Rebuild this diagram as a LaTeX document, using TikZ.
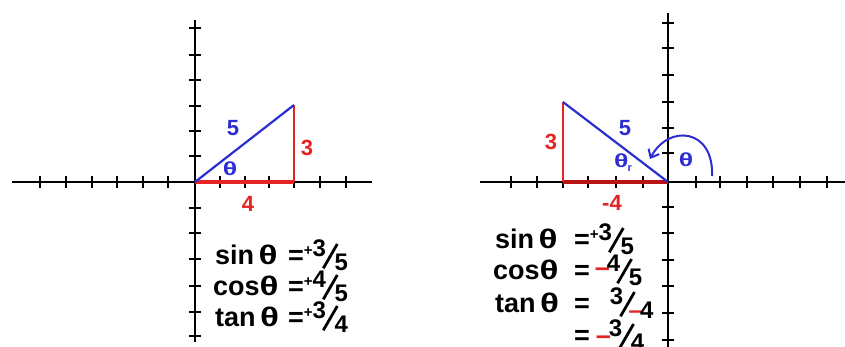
\documentclass[tikz,border=0pt]{standalone}
\usepackage{fontspec}
\setmainfont{Liberation Sans}
\usepackage{graphicx}
\usetikzlibrary{arrows.meta}
\definecolor{myblue}{RGB}{45,45,210}
\definecolor{myred}{RGB}{228,35,35}
\definecolor{mydarkred}{RGB}{185,20,20}
\newcommand{\psup}[1]{\raisebox{9pt}{\fontsize{15}{15}\selectfont #1}}
\newcommand{\fsl}{\raisebox{-5pt}{\rotatebox{60}{\rule{28pt}{2.8pt}}}}
\newcommand{\nfr}[2]{\raisebox{8pt}{\fontsize{24}{24}\selectfont #1}\kern-4pt\fsl\kern-4pt\raisebox{-6pt}{\fontsize{24}{24}\selectfont #2}}
\newcommand{\rmin}{\textcolor{myred}{–}}
\newcommand{\bth}{\scalebox{1.4}[1]{θ}}
\newcommand{\eth}{\scalebox{1.3}[1]{θ}}
\begin{document}
\begin{tikzpicture}[x=1pt,y=-1pt,
  axis/.style={line width=2.6pt,black},
  tick/.style={line width=2pt,black},
  lbl/.style={font=\fontsize{22}{22}\selectfont\bfseries,inner sep=0},
  thl/.style={font=\fontsize{19}{19}\selectfont\bfseries,inner sep=0,text=myblue},
  eq/.style={font=\fontsize{27}{28}\selectfont\bfseries,inner sep=0,anchor=base west}]
\useasboundingbox (0,0) rectangle (845,347);
% ---------- left graph ----------
\coordinate (O1) at (195,182);
\coordinate (A1) at (294,182);
\coordinate (B1) at (294,105);
\draw[axis] (12,182) -- (372,182);
\draw[axis] (195,20) -- (195,342);
\foreach \x in {40,66,92,117,143,168,220,245,269,294,320,346}
  \draw[tick] (\x,176) -- (\x,188);
\foreach \y in {28,55,80,106,131,156,208,233,259,286,312,336}
  \draw[tick] (189,\y) -- (201,\y);
\draw[line width=3.2pt,myred] (O1) -- (A1);
\draw[line width=2.2pt,myred] (A1) -- (B1);
\draw[line width=2.2pt,myblue] (O1) -- (B1);
\node[lbl,text=myblue] (l5) at (233,128) {5};
\node[thl] (lth) at (230,169) {\bth};
\node[lbl,text=myred] (l3) at (307,148) {3};
\node[lbl,text=myred] (l4) at (248,204) {4};
\node[eq] (ls) at (215,264) {sin\,\eth};
\node[eq] (lc) at (213,295) {cos\eth};
\node[eq] (lt) at (215,326) {tan\,\eth};
\node[eq] (lse) at (288,264) {=\psup{+}\nfr{3}{5}};
\node[eq] (lce) at (288,295) {=\psup{+}\nfr{4}{5}};
\node[eq] (lte) at (288,326) {=\psup{+}\nfr{3}{4}};
% ---------- right graph ----------
\coordinate (O2) at (668,182);
\coordinate (A2) at (563,182);
\coordinate (B2) at (563,102);
\draw[axis] (480,182) -- (845,182);
\draw[axis] (668,13) -- (668,347);
\foreach \x in {511,537,563,588,616,643,696,720,747,773,800,827}
  \draw[tick] (\x,176) -- (\x,188);
\foreach \y in {23,48,75,102,128,153,207,233,260,286,313,340}
  \draw[tick] (662,\y) -- (674,\y);
\draw[line width=4pt,mydarkred] (O2) -- (A2);
\draw[line width=2.2pt,myred] (A2) -- (B2);
\draw[line width=2.2pt,myblue] (O2) -- (B2);
\coordinate (arcS) at (712,176);
\coordinate (arcE) at (650,159);
\draw[line width=2pt,myblue,-{Straight Barb[length=7pt,width=12pt,line width=2pt]}]
  (arcS) .. controls (714,128) and (668,124) .. (arcE);
\node[lbl,text=myblue] (r5) at (625,128) {5};
\node[thl,anchor=west] (rthr) at (614,163) {\bth\kern-1pt\raisebox{-4pt}{\fontsize{11}{11}\selectfont r}};
\node[thl] (rth) at (686,160) {\bth};
\node[lbl,text=myred] (r3) at (551,142) {3};
\node[lbl,text=myred] (r4) at (612,203) {-4};
\node[eq] (rs) at (495,248) {sin\,\eth};
\node[eq] (rc) at (493,279) {cos\eth};
\node[eq] (rt) at (495,312) {tan\,\eth};
\node[eq] (rse) at (574,248) {=\psup{+}\nfr{3}{5}};
\node[eq] (rce) at (574,279) {=\kern5pt\raisebox{2pt}{\rmin}\kern-3pt\nfr{4}{5}};
\node[eq] (rte) at (574,312) {=\hspace{20pt}\nfr{3}{\kern-3pt\rmin\kern-2pt 4}};
\node[eq] (rfe) at (574,344) {=\kern6pt\rmin\kern-2pt\nfr{3}{4}};
\end{tikzpicture}
\end{document}
